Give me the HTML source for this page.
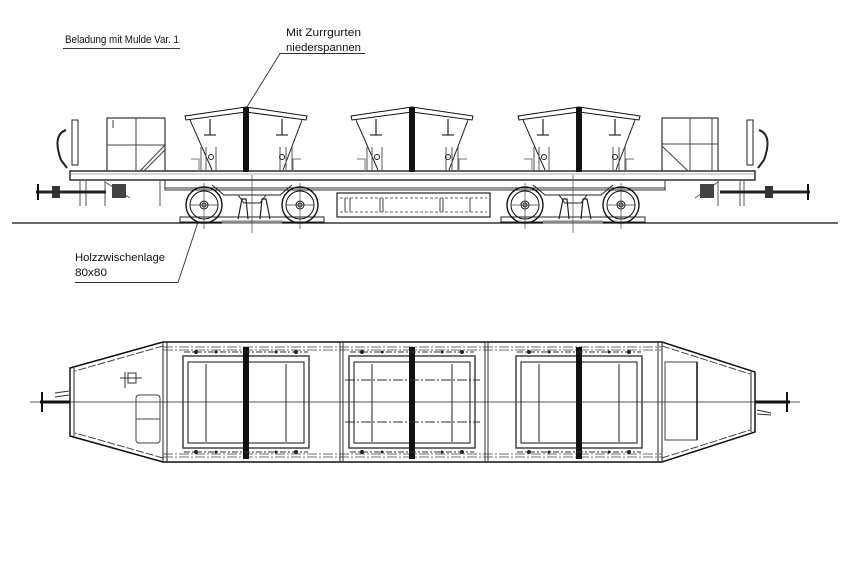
<!DOCTYPE html>
<html><head><meta charset="utf-8"><style>
html,body{margin:0;padding:0;background:#fff;}
svg{display:block;}
text{font-family:"Liberation Sans",sans-serif;font-size:11px;fill:#111;}
</style></head><body>
<svg width="850" height="567" viewBox="0 0 850 567" xmlns="http://www.w3.org/2000/svg">
<defs>
<g id="hop">
 <!-- hopper side view centered at x=0 -->
 <path d="M-61,9 L0,0 L61,9 L60,13 L0,5 L-60,13 Z" fill="#fff" stroke="#111" stroke-width="1"/>
 <path d="M-56,13 L-34,63 M56,13 L37,63" stroke="#222" stroke-width="1" fill="none"/>
 <path d="M-36,12 v16 M-42,28 h12 M36,12 v16 M30,28 h12" stroke="#333" stroke-width="1.3"/>
 <path d="M-45,40 v25 M-40,40 v25 M-30,40 v25 M34,40 v25 M40,40 v25 M46,40 v25" stroke="#555" stroke-width="1"/>
 <path d="M-55,52 h8 v13 M55,52 h-8 v13" stroke="#777" stroke-width="1" fill="none"/>
 <circle cx="-35" cy="50" r="2.5" fill="none" stroke="#222"/>
 <circle cx="36" cy="50" r="2.5" fill="none" stroke="#222"/>
 <rect x="-3" y="0" width="6" height="65" fill="#111"/>
</g>
<g id="bogie">
 <!-- centered at x=0, wheels at +-48 -->
 <path d="M-72,12 h144 v5 h-144 z" fill="#fff" stroke="#222"/>
 <path d="M-40,-20 l12,10 h56 l12,-10" fill="none" stroke="#222"/>
 <path d="M-14,-10 l6,8 h16 l6,-8" fill="none" stroke="#222"/>
 <path d="M-14,14 l4,-20 h4 l2,20 M8,14 l2,-20 h4 l4,20" fill="none" stroke="#222" stroke-width="1.2"/>
 <path d="M-30,17 h60" stroke="#888" stroke-width="3"/>
 <g fill="none" stroke="#111">
  <circle cx="-48" cy="0" r="18" stroke-width="1.4"/><circle cx="-48" cy="0" r="14"/>
  <circle cx="-48" cy="0" r="4"/><circle cx="-48" cy="0" r="2"/>
  <circle cx="48" cy="0" r="18" stroke-width="1.4"/><circle cx="48" cy="0" r="14"/>
  <circle cx="48" cy="0" r="4"/><circle cx="48" cy="0" r="2"/>
 </g>
 <path d="M-48,-22 v46 M48,-22 v46 M0,-30 v58 M-62,0 h28 M34,0 h28" stroke="#444" stroke-width="0.7"/>
</g>
<g id="phop">
 <!-- plan hopper centered at x=0, y from 342 -->
 <rect x="-63" y="14" width="126" height="92" fill="none" stroke="#444" stroke-width="1.5"/>
 <rect x="-58" y="20" width="116" height="81" fill="none" stroke="#111"/>
 <path d="M-40,22 v78 M40,22 v78" stroke="#222"/>
 <rect x="-3" y="5" width="6" height="112" fill="#111"/>
 <path d="M-62,10 h124 M-62,110 h124" stroke="#333" stroke-dasharray="6,2,2,2"/>
 <g fill="#222"><circle cx="-50" cy="10" r="2"/><circle cx="-30" cy="10" r="1.5"/><circle cx="30" cy="10" r="1.5"/><circle cx="50" cy="10" r="2"/>
 <circle cx="-50" cy="110" r="2"/><circle cx="-30" cy="110" r="1.5"/><circle cx="30" cy="110" r="1.5"/><circle cx="50" cy="110" r="2"/></g>
</g>
</defs>

<!-- labels -->
<text x="65" y="43" textLength="114" lengthAdjust="spacingAndGlyphs">Beladung mit Mulde Var. 1</text>
<line x1="63" y1="48.5" x2="180" y2="48.5" stroke="#333"/>
<text x="286" y="36" textLength="75" lengthAdjust="spacingAndGlyphs">Mit Zurrgurten</text>
<text x="286" y="51" textLength="75" lengthAdjust="spacingAndGlyphs">niederspannen</text>
<path d="M365,53.5 H280 L247,107" fill="none" stroke="#333" stroke-width="0.9"/>
<text x="75" y="261" textLength="90" lengthAdjust="spacingAndGlyphs">Holzzwischenlage</text>
<text x="75" y="276" textLength="32" lengthAdjust="spacingAndGlyphs">80x80</text>
<path d="M75,282.5 H178 L198,222" fill="none" stroke="#333" stroke-width="0.9"/>

<!-- ground -->
<line x1="12" y1="223" x2="838" y2="223" stroke="#111" stroke-width="1.2"/>

<!-- side view deck -->
<rect x="70" y="171" width="685" height="9" fill="#fff" stroke="#111" stroke-width="1.3"/>
<line x1="70" y1="174" x2="755" y2="174" stroke="#666" stroke-width="0.6"/>
<path d="M165,180 v10 h500 v-10 M165,188 h500" fill="none" stroke="#333"/>
<!-- middle underframe -->
<rect x="337" y="193" width="153" height="24" fill="none" stroke="#222" stroke-width="1.2"/>
<path d="M340,198 h147 M340,212 h147" stroke="#666" stroke-dasharray="3,2"/>
<path d="M345,198 v14 M350,198 v14 M380,198 v14 M383,198 v14 M440,198 v14 M443,198 v14 M470,198 v14" stroke="#444"/>

<!-- hoppers -->
<use href="#hop" x="246" y="107"/>
<use href="#hop" x="412" y="107"/>
<use href="#hop" x="579" y="107"/>

<!-- left cab -->
<rect x="107" y="118" width="58" height="53" fill="none" stroke="#222" stroke-width="1.1"/>
<path d="M136,118 v53 M107,145 h58 M165,145 L140,171 M165,150 L144,171 M113,120 v8" stroke="#444" fill="none"/>
<!-- right cab -->
<rect x="662" y="118" width="56" height="53" fill="none" stroke="#222" stroke-width="1.1"/>
<path d="M690,118 v53 M662,144 h56 M662,146 L688,171 M712,118 v53" stroke="#444" fill="none"/>
<!-- handles -->
<path d="M72,120 h6 v45 h-6 z" fill="none" stroke="#222"/>
<path d="M66,130 q-14,5 -5,30 l6,8" fill="none" stroke="#222" stroke-width="2"/>
<path d="M747,120 h6 v45 h-6 z" fill="none" stroke="#222"/>
<path d="M759,130 q14,5 5,30 l-6,8" fill="none" stroke="#222" stroke-width="2"/>
<!-- end supports -->
<path d="M80,180 v26 M86,180 v26 M80,192 h25 M105,180 v26 M160,180 v26 M718,180 v26 M744,180 v26 M720,192 h24 M740,180 v26" stroke="#555"/>
<path d="M105,182 L130,198 M718,182 L695,198" stroke="#555"/>
<!-- couplers -->
<path d="M36,192 h70" stroke="#222" stroke-width="3"/>
<rect x="52" y="186" width="8" height="12" fill="#333"/><rect x="112" y="184" width="14" height="14" fill="#444"/>
<path d="M38,184 v16" stroke="#111" stroke-width="2"/>
<path d="M720,192 h90" stroke="#222" stroke-width="3"/>
<rect x="700" y="184" width="14" height="14" fill="#444"/><rect x="765" y="186" width="8" height="12" fill="#333"/>
<path d="M808,184 v16" stroke="#111" stroke-width="2"/>

<!-- bogies -->
<use href="#bogie" x="252" y="205"/>
<use href="#bogie" x="573" y="205"/>

<!-- plan view -->
<path d="M163,342 H662 L755,372 V432 L662,462 H163 L70,436 V368 Z" fill="#fff" stroke="#111" stroke-width="1.5"/>
<path d="M163,346 L75,371 M163,458 L75,433 M662,346 L750,374 M662,458 L750,430" stroke="#444" stroke-dasharray="8,2"/>
<path d="M163,342 V462 M167,342 V462 M658,342 V462 M662,342 V462 M70,368 V436 M74,368 V436 M751,372 V432" stroke="#222"/>
<path d="M163,347 H662 M163,350 H662 M163,454 H662 M163,457 H662" stroke="#444" stroke-width="0.8" stroke-dasharray="10,2,2,2"/>
<line x1="30" y1="402" x2="800" y2="402" stroke="#222" stroke-width="0.8"/>
<use href="#phop" x="246" y="342"/>
<use href="#phop" x="412" y="342"/>
<use href="#phop" x="579" y="342"/>
<path d="M340,342 V462 M343,342 V462 M485,342 V462 M488,342 V462" stroke="#333"/>
<path d="M345,380 H480 M345,422 H480" stroke="#333" stroke-dasharray="10,2,2,2"/>
<!-- left end details -->
<rect x="136" y="395" width="24" height="48" rx="3" fill="none" stroke="#444"/>
<line x1="136" y1="419" x2="160" y2="419" stroke="#444"/>
<rect x="128" y="373" width="8" height="10" fill="none" stroke="#333"/>
<path d="M120,378 h22 M125,372 v16" stroke="#333"/>
<!-- right end details -->
<rect x="665" y="362" width="32" height="78" fill="none" stroke="#444"/>
<line x1="697" y1="362" x2="697" y2="440" stroke="#111" stroke-width="1.5"/>
<!-- plan couplers -->
<path d="M40,402 h30" stroke="#111" stroke-width="3"/>
<path d="M42,392 v20" stroke="#111" stroke-width="2"/>
<path d="M55,393 l14,-2 M55,397 l14,-2" stroke="#333"/>
<path d="M755,402 h35" stroke="#111" stroke-width="3"/>
<path d="M787,392 v20" stroke="#111" stroke-width="2"/>
<path d="M757,410 l14,3 M757,414 l14,1" stroke="#333"/>
</svg>
</body></html>
